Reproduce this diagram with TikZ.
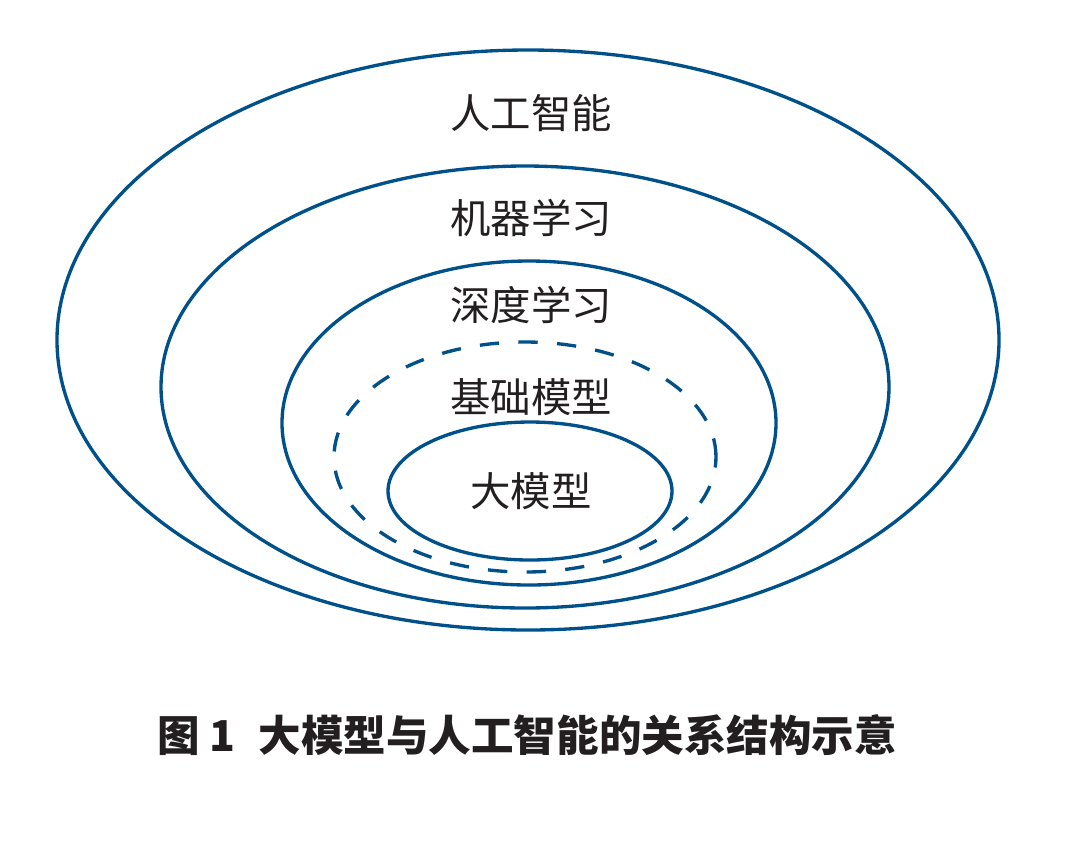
\documentclass[tikz,border=0pt]{standalone}
\usepackage{fontspec}
\newfontfamily\cjk{Noto Sans CJK SC}
\definecolor{ringblue}{RGB}{0,80,138}
\definecolor{inkgray}{RGB}{35,31,32}
\begin{document}
\begin{tikzpicture}[x=0.02cm, y=-0.02cm,
  ring/.style = {draw=ringblue, line width=1.9pt},
  every node/.style = {text=inkgray, inner sep=0pt,
    font=\cjk\fontsize{23}{27}\selectfont}]
 \useasboundingbox (0,0) rectangle (1078,850);
 \draw[ring] (528,340) ellipse [x radius=471, y radius=290];
 \draw[ring] (525,387) ellipse [x radius=364, y radius=221];
 \draw[ring] (529,423) ellipse [x radius=247, y radius=162];
 \draw[ring, dash pattern=on 11pt off 11pt, dash phase=5pt] (525,457) ellipse [x radius=191, y radius=115];
 \draw[ring] (530,491) ellipse [x radius=142, y radius=69];
 \node (ai) at (531,113) {人工智能};
 \node (ml) at (531,218) {机器学习};
 \node (dl) at (531,305) {深度学习};
 \node (fm) at (531,397) {基础模型};
 \node (llm) at (531,491) {大模型};
 \node[font=\cjk\bfseries\fontsize{24.2}{28}\selectfont] (caption) at (527,735)
   {图 1\hspace{0.55em}大模型与人工智能的关系结构示意};
\end{tikzpicture}
\end{document}
